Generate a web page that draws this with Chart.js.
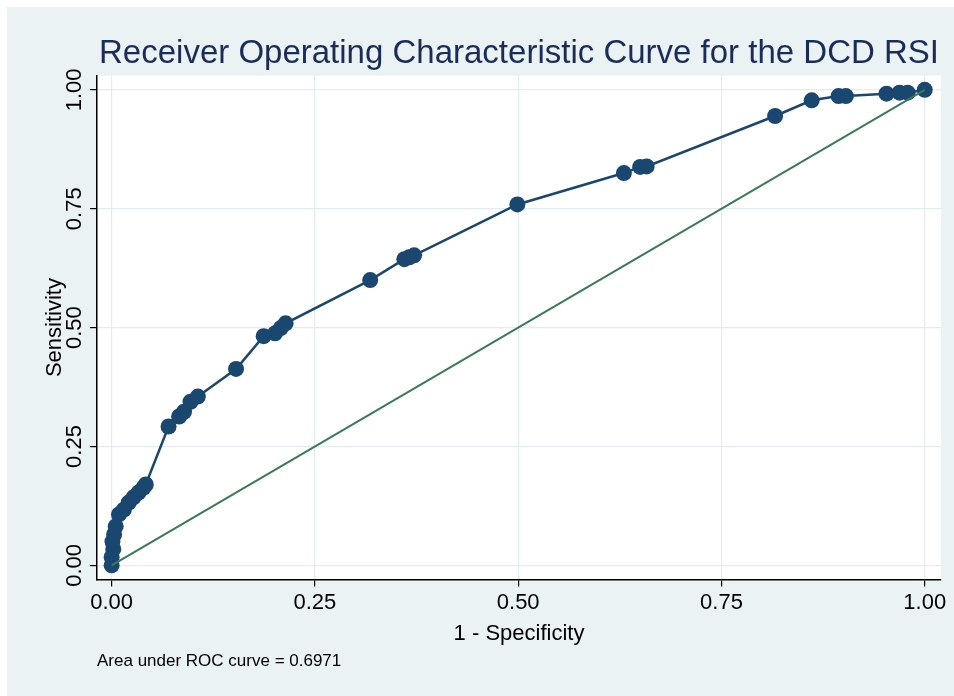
<!DOCTYPE html>
<html>
<head>
<meta charset="utf-8">
<script src="https://cdn.jsdelivr.net/npm/chart.js@4.4.0/dist/chart.umd.min.js"></script>
<style>
  html, body { margin: 0; padding: 0; background: #fff; }
</style>
</head>
<body>
<canvas id="myChart" width="954" height="696"></canvas>
<script>
var fpr = [0, 0, 0.002, 0.001, 0.003, 0.005, 0.009, 0.015, 0.021, 0.027, 0.033, 0.039, 0.042,
           0.070, 0.083, 0.089, 0.097, 0.106, 0.153, 0.187, 0.201, 0.208, 0.214,
           0.318, 0.360, 0.366, 0.372, 0.499, 0.630, 0.650, 0.658,
           0.816, 0.861, 0.894, 0.903, 0.953, 0.969, 0.979, 1]
var sensitivity = [0, 0.017, 0.034, 0.050, 0.065, 0.082, 0.107, 0.117, 0.132, 0.143, 0.153, 0.163, 0.170,
                   0.292, 0.313, 0.323, 0.344, 0.355, 0.413, 0.482, 0.488, 0.499, 0.509,
                   0.600, 0.644, 0.648, 0.652, 0.759, 0.825, 0.838, 0.839,
                   0.945, 0.978, 0.987, 0.987, 0.992, 0.994, 0.994, 1]
var refX = [0, 1]
var refY = [0, 1]
var tickValues = [0, 0.25, 0.5, 0.75, 1]
var chartTitle = 'Receiver Operating Characteristic Curve for the DCD RSI'
var xTitle = '1 - Specificity'
var yTitle = 'Sensitivity'
var aucNote = 'Area under ROC curve = 0.6971'

var navy = '#1a476f'
var green = '#3a7a5c'
var gridColor = '#e3ecee'

function toPoints(xs, ys) {
      return xs.map(function (x, i) { return { x: x, y: ys[i] } })
}

function setTicks(scale) {
      scale.ticks = tickValues.map(function (v) { return { value: v } })
}

// stata style background: bluish gray outer region, white plot region
var backgroundPlugin = {
      id: 'stataBackground',
      beforeDraw: function (chart) {
            var ctx = chart.ctx
            var a = chart.chartArea
            ctx.save()
            ctx.fillStyle = '#ffffff'
            ctx.fillRect(0, 0, chart.width, chart.height)
            ctx.fillStyle = '#eaf2f3'
            ctx.fillRect(7, 7, chart.width - 7, chart.height - 7)
            ctx.fillStyle = '#ffffff'
            ctx.fillRect(a.left, a.top, a.right - a.left, a.bottom - a.top)
            ctx.restore()
      }
}

var ctx = document.getElementById('myChart')
var myChart = new Chart(ctx, {
      type: 'scatter',
      data: {
            datasets: [{
                  label: 'Reference',
                  data: toPoints(refX, refY),
                  showLine: true,
                  borderColor: green,
                  borderWidth: 2,
                  pointRadius: 0,
                  order: 0
            }, {
                  label: 'ROC',
                  data: toPoints(fpr, sensitivity),
                  showLine: true,
                  lineTension: 0,
                  borderColor: navy,
                  borderWidth: 2.5,
                  pointRadius: 8,
                  pointBackgroundColor: navy,
                  pointBorderColor: navy,
                  pointBorderWidth: 0,
                  order: 1
            }]
      },
      options: {
            animation: false,
            responsive: false,
            layout: {
                  padding: { left: 0, right: 13, top: 0, bottom: 0 }
            },
            plugins: {
                  legend: { display: false },
                  tooltip: { enabled: false },
                  title: {
                        display: true,
                        text: chartTitle,
                        fullSize: false,
                        color: '#1c2c5a',
                        font: { family: 'Liberation Sans, Arial, sans-serif', size: 33, weight: 'normal' },
                        padding: { top: 34, bottom: 2 }
                  },
                  subtitle: {
                        display: true,
                        text: aucNote,
                        position: 'bottom',
                        align: 'start',
                        fullSize: false,
                        color: '#000',
                        font: { family: 'Liberation Sans, Arial, sans-serif', size: 17, weight: 'normal' },
                        padding: { top: 0, bottom: 24 }
                  }
            },
            scales: {
                  x: {
                        type: 'linear',
                        min: -0.018,
                        max: 1.02,
                        afterBuildTicks: setTicks,
                        afterFit: function (scale) { scale.height = 72 },
                        border: { display: true, color: '#000', width: 1.5 },
                        grid: { color: gridColor, lineWidth: 1.2, tickColor: '#000', tickLength: 7 },
                        ticks: {
                              color: '#000',
                              font: { family: 'Liberation Sans, Arial, sans-serif', size: 22 },
                              padding: 3,
                              maxRotation: 0,
                              autoSkip: false,
                              callback: function (v) { return v.toFixed(2) }
                        },
                        title: {
                              display: true,
                              text: xTitle,
                              color: '#000',
                              font: { family: 'Liberation Sans, Arial, sans-serif', size: 22 },
                              padding: { top: 0, bottom: 4 }
                        }
                  },
                  y: {
                        type: 'linear',
                        min: -0.03,
                        max: 1.03,
                        afterBuildTicks: setTicks,
                        afterFit: function (scale) { scale.width = 97 },
                        border: { display: true, color: '#000', width: 1.5 },
                        grid: { color: gridColor, lineWidth: 1.2, tickColor: '#000', tickLength: 7 },
                        ticks: {
                              color: '#000',
                              font: { family: 'Liberation Sans, Arial, sans-serif', size: 22 },
                              padding: -6,
                              minRotation: 90,
                              maxRotation: 90,
                              crossAlign: 'center',
                              autoSkip: false,
                              callback: function (v) { return v.toFixed(2) }
                        },
                        title: {
                              display: true,
                              text: yTitle,
                              color: '#000',
                              font: { family: 'Liberation Sans, Arial, sans-serif', size: 22 },
                              padding: { top: 42, bottom: 0 }
                        }
                  }
            }
      },
      plugins: [backgroundPlugin]
})
</script>
</body>
</html>
